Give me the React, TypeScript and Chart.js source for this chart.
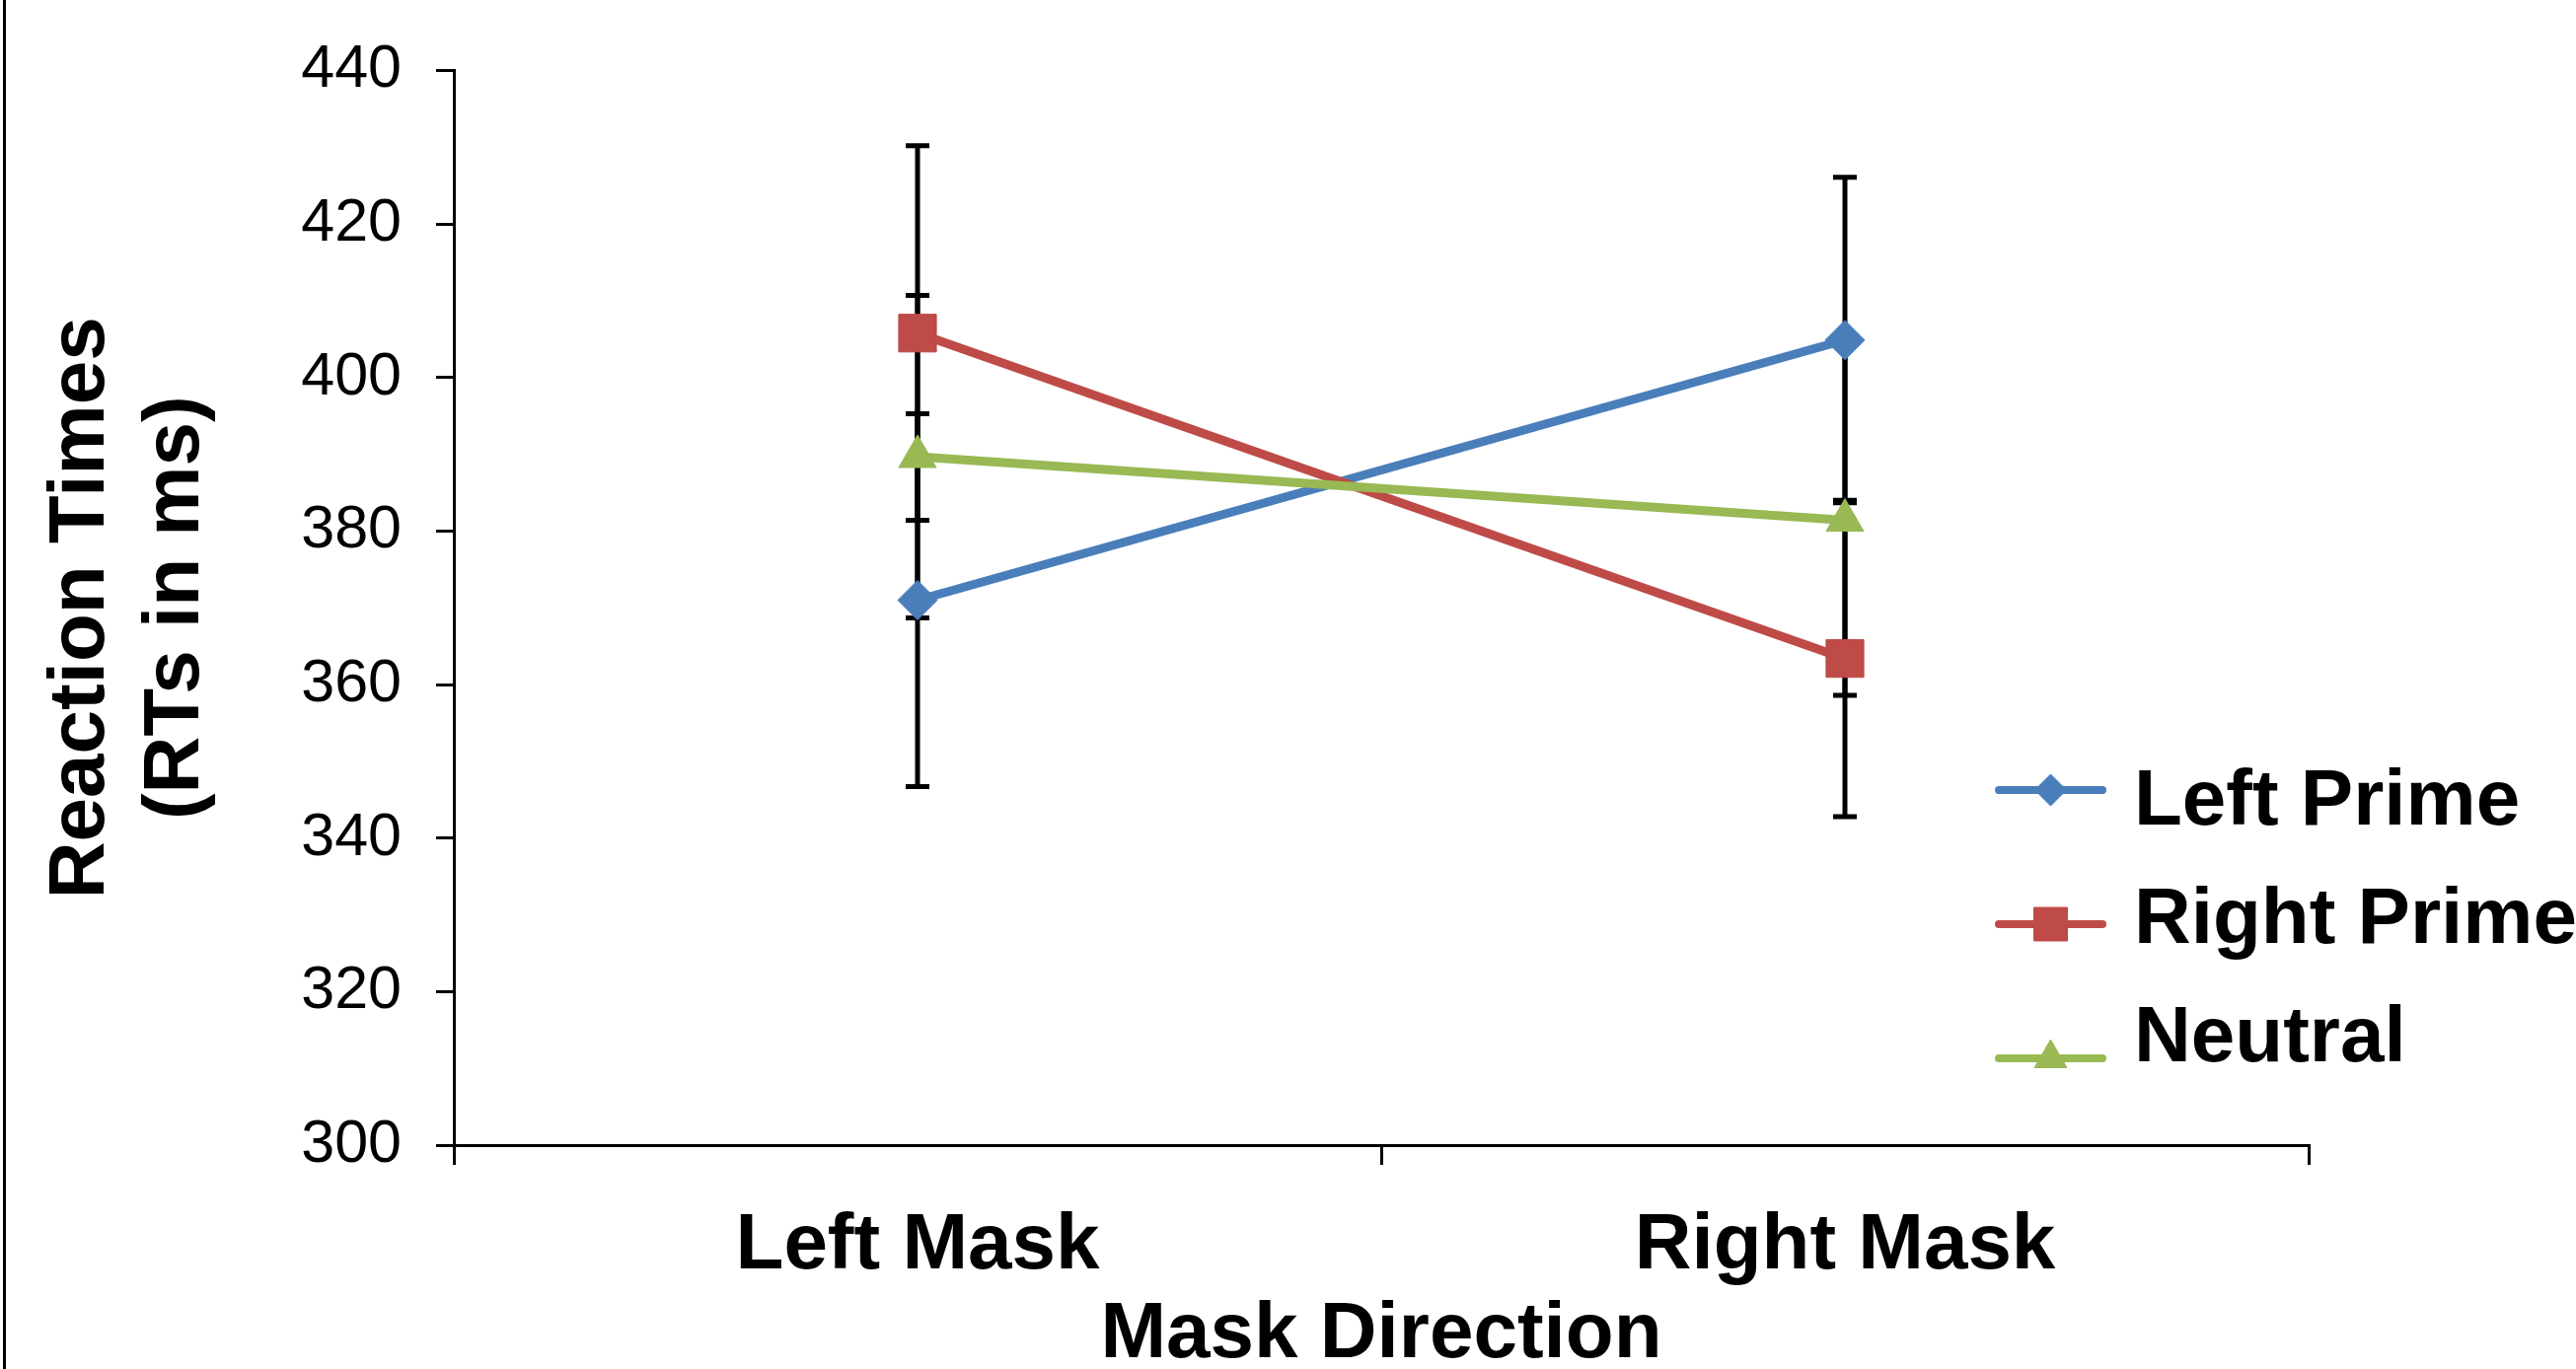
import { useEffect, useRef } from 'react';
import { Chart, registerables } from 'chart.js';
import { drawPoint } from 'chart.js/helpers';

Chart.register(...registerables);

const categories = ['Left Mask', 'Right Mask'];
const seriesNames = ['Left Prime', 'Right Prime', 'Neutral'];
const leftPrime = [371.0, 404.9];
const rightPrime = [405.8, 363.4];
const neutral = [389.7, 381.4];
const leftPrimeErr = [24.3, 21.2];
const rightPrimeErr = [24.4, 20.6];
const neutralErr = [21.0, 22.8];
const yTickValues = [300, 320, 340, 360, 380, 400, 420, 440];
const yTitle = ['Reaction Times', '(RTs in ms)'];
const xTitle = 'Mask Direction';

const FONT = '"Liberation Sans", Arial, sans-serif';
const colors = ['#4A7EBB', '#BE4B48', '#98B954'];
const pointStyles = ['rectRot', 'rect', 'triangle'];
const pointRadii = [20, 27, 22];
const legendRadii = [16, 24, 19];

const errorBarsPlugin = {
  id: 'errorBars',
  beforeDatasetsDraw(chart: any) {
    const { ctx } = chart;
    const xs = chart.scales.x;
    const ys = chart.scales.y;
    ctx.save();
    ctx.strokeStyle = '#000';
    ctx.lineWidth = 5;
    chart.data.datasets.forEach((ds: any) => {
      const errs: number[] = ds.errors;
      ds.data.forEach((v: number, j: number) => {
        const px = xs.getPixelForValue(j);
        const top = ys.getPixelForValue(v + errs[j]);
        const bot = ys.getPixelForValue(v - errs[j]);
        ctx.beginPath();
        ctx.moveTo(px, top);
        ctx.lineTo(px, bot);
        ctx.moveTo(px - 12, top);
        ctx.lineTo(px + 12, top);
        ctx.moveTo(px - 12, bot);
        ctx.lineTo(px + 12, bot);
        ctx.stroke();
      });
    });
    ctx.restore();
  },
};

const customLegendPlugin = {
  id: 'customLegend',
  afterDraw(chart: any) {
    const { ctx } = chart;
    ctx.save();
    // left frame line
    ctx.strokeStyle = '#000';
    ctx.lineWidth = 3;
    ctx.beginPath();
    ctx.moveTo(4.5, 0);
    ctx.lineTo(4.5, chart.height);
    ctx.stroke();

    chart.data.datasets.forEach((ds: any, i: number) => {
      const lineY = 801 + i * 136;
      const textY = 814 + i * 120;
      const x0 = 2026;
      const x1 = 2131;
      ctx.strokeStyle = ds.borderColor;
      ctx.fillStyle = ds.backgroundColor;
      ctx.lineWidth = 8;
      ctx.lineCap = 'round';
      ctx.beginPath();
      ctx.moveTo(x0, lineY);
      ctx.lineTo(x1, lineY);
      ctx.stroke();
      ctx.lineCap = 'butt';
      ctx.lineWidth = 1;
      drawPoint(ctx, { pointStyle: ds.pointStyle, radius: legendRadii[i], rotation: 0, borderWidth: 1 }, (x0 + x1) / 2, lineY);
      ctx.fillStyle = '#000';
      ctx.font = `bold 80px ${FONT}`;
      ctx.textAlign = 'left';
      ctx.textBaseline = 'middle';
      ctx.fillText(ds.label, 2163, textY);
    });
    ctx.restore();
  },
};

export default function App() {
  const canvasRef = useRef<HTMLCanvasElement | null>(null);

  useEffect(() => {
    document.body.style.margin = '0';
    document.body.style.overflow = 'hidden';
    const canvas = canvasRef.current;
    if (!canvas) return;
    const seriesData = [leftPrime, rightPrime, neutral];
    const seriesErr = [leftPrimeErr, rightPrimeErr, neutralErr];
    const chart = new Chart(canvas, {
      type: 'line',
      data: {
        labels: categories,
        datasets: seriesNames.map((name, i) => ({
          label: name,
          data: seriesData[i],
          errors: seriesErr[i],
          borderColor: colors[i],
          backgroundColor: colors[i],
          borderWidth: 9,
          tension: 0,
          fill: false,
          pointStyle: pointStyles[i],
          pointRadius: pointRadii[i],
          pointBackgroundColor: colors[i],
          pointBorderColor: colors[i],
          pointBorderWidth: 1,
          order: 3 - i,
        })) as any,
      },
      options: {
        responsive: false,
        animation: false,
        devicePixelRatio: 1,
        layout: { padding: { top: 70, right: 271, bottom: 0, left: 0 } },
        plugins: {
          legend: { display: false },
          tooltip: { enabled: false },
        },
        scales: {
          x: {
            type: 'category',
            offset: true,
            grid: {
              display: true,
              drawOnChartArea: false,
              drawTicks: true,
              tickLength: 20,
              color: '#000',
              lineWidth: 3,
              offset: true,
            },
            border: { display: true, color: '#000', width: 3 },
            ticks: {
              color: '#000',
              font: { family: FONT, size: 80, weight: 'bold' },
              padding: 35,
              maxRotation: 0,
              autoSkip: false,
            },
            title: {
              display: true,
              text: xTitle,
              color: '#000',
              font: { family: FONT, size: 80, weight: 'bold', lineHeight: 0.9 },
              padding: { top: 0, bottom: -2 },
            },
            afterFit: (s: any) => {
              s.height = 227;
            },
          },
          y: {
            min: yTickValues[0],
            max: yTickValues[yTickValues.length - 1],
            ticks: {
              stepSize: yTickValues[1] - yTickValues[0],
              color: '#000',
              font: { family: FONT, size: 61 },
              padding: 35,
            },
            grid: {
              drawOnChartArea: false,
              drawTicks: true,
              tickLength: 18,
              color: '#000',
              lineWidth: 3,
            },
            border: { display: true, color: '#000', width: 3 },
            title: {
              display: true,
              text: yTitle,
              color: '#000',
              font: { family: FONT, size: 80, weight: 'bold', lineHeight: 1.2 },
              padding: { top: 35, bottom: 0 },
            },
            afterFit: (s: any) => {
              s.width = 460;
            },
          },
        },
      } as any,
      plugins: [errorBarsPlugin, customLegendPlugin],
    });
    return () => chart.destroy();
  }, []);

  return (
    <canvas
      ref={canvasRef}
      width={2611}
      height={1388}
      style={{ display: 'block', width: '2611px', height: '1388px' }}
    />
  );
}
